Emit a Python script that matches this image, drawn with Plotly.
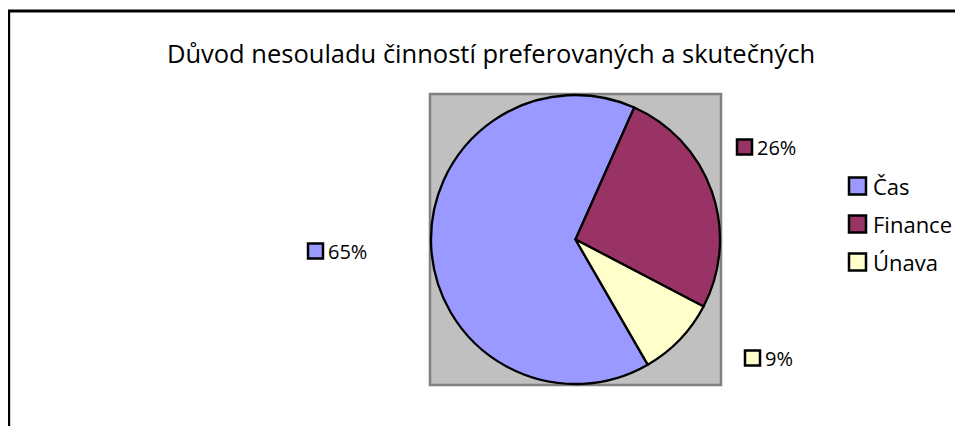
import plotly.graph_objects as go

# ---- data ----
categories = ["Čas", "Finance", "Únava"]
values = [65, 26, 9]
colors = ["#9999FF", "#993366", "#FFFFCC"]
title_text = "Důvod nesouladu činností preferovaných a skutečných"

# page offset of the plot inside the browser window (default body margin)
OX, OY = 8, 8
W, H = 963 - OX, 426 - OY
FONT = "'Open Sans', 'Noto Sans', sans-serif"


def px(x):
    return (x - OX) / W


def py(y):
    return 1 - (y - OY) / H


total = sum(values)
pct_text = [f"{round(v / total * 100)}%" for v in values]

# plot-area box (page pixels)
pa = dict(x0=430, x1=721, y0=94, y1=385)

fig = go.Figure()
fig.add_trace(go.Pie(
    labels=categories,
    values=values,
    marker=dict(colors=colors, line=dict(color="black", width=2.3)),
    sort=False,
    direction="clockwise",
    rotation=150,
    textinfo="none",
    hoverinfo="label+percent",
    showlegend=False,
    domain=dict(x=[px(pa["x0"] + 1), px(pa["x1"] - 1)],
                y=[py(pa["y1"] - 1), py(pa["y0"] + 1)]),
))

shapes = []
annotations = []

# outer chart border
shapes.append(dict(type="rect", xref="paper", yref="paper",
                   x0=px(8.7), x1=1.05, y0=-0.05, y1=py(11),
                   line=dict(color="black", width=3), fillcolor="rgba(0,0,0,0)",
                   layer="below"))
# gray plot area
shapes.append(dict(type="rect", xref="paper", yref="paper",
                   x0=px(pa["x0"]), x1=px(pa["x1"]), y0=py(pa["y1"]), y1=py(pa["y0"]),
                   line=dict(color="#808080", width=2.5), fillcolor="#C0C0C0",
                   layer="below"))

# data labels (key square + percentage), placed as in the reference
label_pos = [(308, 251), (737, 147), (745, 358)]  # left of key square, centre y
SQ = 15
for (lx, ly), txt, col in zip(label_pos, pct_text, colors):
    shapes.append(dict(type="rect", xref="paper", yref="paper",
                       x0=px(lx), x1=px(lx + SQ), y0=py(ly + SQ / 2), y1=py(ly - SQ / 2),
                       line=dict(color="black", width=2.5), fillcolor=col))
    annotations.append(dict(xref="paper", yref="paper", x=px(lx + SQ + 3), y=py(ly),
                            xanchor="left", yanchor="middle", text=txt, showarrow=False,
                            font=dict(family=FONT, size=20, color="black")))

# legend
leg_x = 849
leg_y = [186, 224, 262]
LSQ = 17
for name, col, ly in zip(categories, colors, leg_y):
    shapes.append(dict(type="rect", xref="paper", yref="paper",
                       x0=px(leg_x), x1=px(leg_x + LSQ), y0=py(ly + LSQ / 2), y1=py(ly - LSQ / 2),
                       line=dict(color="black", width=2.5), fillcolor=col))
    annotations.append(dict(xref="paper", yref="paper", x=px(leg_x + LSQ + 5), y=py(ly),
                            xanchor="left", yanchor="middle", text=name, showarrow=False,
                            font=dict(family=FONT, size=22, color="black")))

fig.update_layout(
    width=W, height=H,
    margin=dict(l=0, r=0, t=0, b=0),
    paper_bgcolor="white",
    plot_bgcolor="white",
    title=dict(text=title_text, x=px(491), y=py(54), xanchor="center", yanchor="middle",
               font=dict(family=FONT, size=25.5, color="black")),
    shapes=shapes,
    annotations=annotations,
)

fig.write_html("out.html")
